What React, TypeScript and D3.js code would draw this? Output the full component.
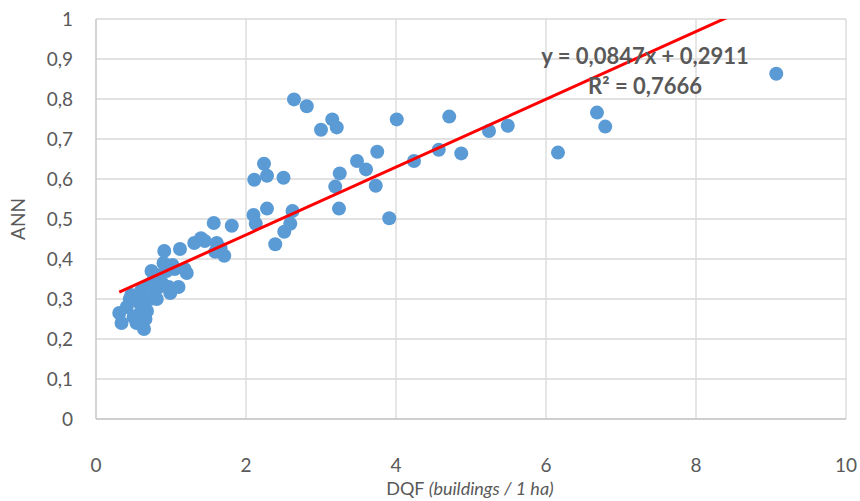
import React, { useEffect, useRef } from "react";
import * as d3 from "d3";

// DQF (buildings / 1 ha) values
const dqf = [
  0.31, 0.34, 0.45, 0.47, 0.41, 0.5, 0.5, 0.54, 0.56, 0.58, 0.6, 0.62, 0.64, 0.66, 0.68, 0.7,
  0.72, 0.74, 0.76, 0.78, 0.81, 0.84, 0.86, 0.88, 0.9, 0.91, 0.94, 0.97, 0.99, 1.02, 1.05, 1.1,
  1.12, 1.18, 1.21, 1.31, 1.4, 1.45, 1.57, 1.59, 1.61, 1.66, 1.71, 1.81,
  2.1, 2.11, 2.13, 2.24, 2.28, 2.28, 2.39, 2.5, 2.51, 2.59, 2.62, 2.64, 2.81, 3.0, 3.15, 3.21,
  3.19, 3.25, 3.24, 3.48, 3.6, 3.75, 3.73, 3.91, 4.01, 4.24, 4.57, 4.71, 4.87, 5.24, 5.49, 6.16,
  6.68, 6.79, 9.07,
];

// ANN values, same order as dqf
const ann = [
  0.265, 0.24, 0.3, 0.31, 0.28, 0.305, 0.255, 0.24, 0.26, 0.29, 0.32, 0.275, 0.225, 0.25, 0.27, 0.335,
  0.3, 0.37, 0.345, 0.32, 0.3, 0.33, 0.36, 0.34, 0.39, 0.42, 0.37, 0.33, 0.315, 0.385, 0.375, 0.33,
  0.425, 0.375, 0.365, 0.44, 0.452, 0.445, 0.49, 0.418, 0.44, 0.427, 0.408, 0.483,
  0.51, 0.598, 0.488, 0.638, 0.608, 0.526, 0.437, 0.603, 0.468, 0.488, 0.52, 0.799, 0.782, 0.723, 0.749, 0.729,
  0.581, 0.614, 0.526, 0.645, 0.624, 0.668, 0.583, 0.502, 0.749, 0.645, 0.673, 0.756, 0.664, 0.72, 0.733, 0.666,
  0.766, 0.731, 0.863,
];

// trend line (linear, as labelled)
const slope = 0.0847;
const intercept = 0.2911;
const equationLines = ["y = 0,0847x + 0,2911", "R² = 0,7666"];

const xTicks = [0, 2, 4, 6, 8, 10];
const yTicks = [0, 0.1, 0.2, 0.3, 0.4, 0.5, 0.6, 0.7, 0.8, 0.9, 1];

const fmt = (v: number) => String(+v.toFixed(1)).replace(".", ",");

function drawChart(container: HTMLDivElement) {
  const width = 860;
  const height = 501;
  const margin = { top: 19, right: 14, bottom: 82, left: 96 };
  const font = "Lato, 'Open Sans', sans-serif";
  const grey = "#595959";

  d3.select(container).select("svg").remove();

  const svg = d3
    .select(container)
    .append("svg")
    .attr("width", width)
    .attr("height", height)
    .style("display", "block")
    .style("background", "#fff");

  const x = d3.scaleLinear().domain([0, 10]).range([margin.left, width - margin.right]);
  const y = d3.scaleLinear().domain([0, 1]).range([height - margin.bottom, margin.top]);

  // gridlines
  svg
    .append("g")
    .selectAll("line.h")
    .data(yTicks.slice(1))
    .enter()
    .append("line")
    .attr("x1", x(0))
    .attr("x2", x(10))
    .attr("y1", (d) => y(d))
    .attr("y2", (d) => y(d))
    .attr("stroke", "#d9d9d9")
    .attr("stroke-width", 1.3);
  svg
    .append("g")
    .selectAll("line.v")
    .data(xTicks.slice(1))
    .enter()
    .append("line")
    .attr("x1", (d) => x(d))
    .attr("x2", (d) => x(d))
    .attr("y1", y(0))
    .attr("y2", y(1))
    .attr("stroke", "#d9d9d9")
    .attr("stroke-width", 1.3);

  // axis lines
  svg
    .append("line")
    .attr("x1", x(0))
    .attr("x2", x(10))
    .attr("y1", y(0))
    .attr("y2", y(0))
    .attr("stroke", "#bfbfbf")
    .attr("stroke-width", 1.3);
  svg
    .append("line")
    .attr("x1", x(0))
    .attr("x2", x(0))
    .attr("y1", y(0))
    .attr("y2", y(1))
    .attr("stroke", "#bfbfbf")
    .attr("stroke-width", 1.3);

  // tick labels
  svg
    .append("g")
    .selectAll("text")
    .data(yTicks)
    .enter()
    .append("text")
    .attr("x", 73)
    .attr("y", (d) => y(d))
    .attr("dy", "0.35em")
    .attr("text-anchor", "end")
    .style("font-family", font)
    .style("font-size", "19px")
    .style("fill", grey)
    .text(fmt);
  svg
    .append("g")
    .selectAll("text")
    .data(xTicks)
    .enter()
    .append("text")
    .attr("x", (d) => x(d))
    .attr("y", 472)
    .attr("text-anchor", "middle")
    .style("font-family", font)
    .style("font-size", "19px")
    .style("fill", grey)
    .text((d) => String(d));

  // axis titles
  svg
    .append("text")
    .attr("transform", `translate(25,${y(0.5)}) rotate(-90)`)
    .attr("text-anchor", "middle")
    .style("font-family", font)
    .style("font-size", "19px")
    .style("fill", grey)
    .text("ANN");
  const xt = svg
    .append("text")
    .attr("x", 470)
    .attr("y", 495)
    .attr("text-anchor", "middle")
    .style("font-family", font)
    .style("font-size", "18px")
    .style("fill", grey);
  xt.append("tspan").text("DQF ");
  xt.append("tspan").style("font-style", "italic").text("(buildings / 1 ha)");

  // points
  const data = dqf.map((d, i) => ({ x: d, y: ann[i] }));
  svg
    .append("g")
    .selectAll("circle")
    .data(data)
    .enter()
    .append("circle")
    .attr("cx", (d) => x(d.x))
    .attr("cy", (d) => y(d.y))
    .attr("r", 7)
    .attr("fill", "#5b9bd5");

  // trend line, clipped to the plot area
  svg
    .append("clipPath")
    .attr("id", "plot-clip")
    .append("rect")
    .attr("x", x(0))
    .attr("y", y(1))
    .attr("width", x(10) - x(0))
    .attr("height", y(0) - y(1));
  const x0 = d3.min(dqf) as number;
  const x1 = d3.max(dqf) as number;
  svg
    .append("line")
    .attr("clip-path", "url(#plot-clip)")
    .attr("x1", x(x0))
    .attr("y1", y(slope * x0 + intercept))
    .attr("x2", x(x1))
    .attr("y2", y(slope * x1 + intercept))
    .attr("stroke", "#ff0000")
    .attr("stroke-width", 3);

  // equation label
  svg
    .append("g")
    .selectAll("text")
    .data(equationLines)
    .enter()
    .append("text")
    .attr("x", 645)
    .attr("y", (d, i) => 64 + i * 30)
    .attr("text-anchor", "middle")
    .style("font-family", font)
    .style("font-size", "22px")
    .style("font-weight", "bold")
    .style("fill", grey)
    .text((d) => d);
}

const App = () => {
  const ref = useRef<HTMLDivElement>(null);

  useEffect(() => {
    if (ref.current) drawChart(ref.current);
  }, []);

  return <div ref={ref} style={{ position: "absolute", left: 0, top: 0 }} />;
};

export default App;
